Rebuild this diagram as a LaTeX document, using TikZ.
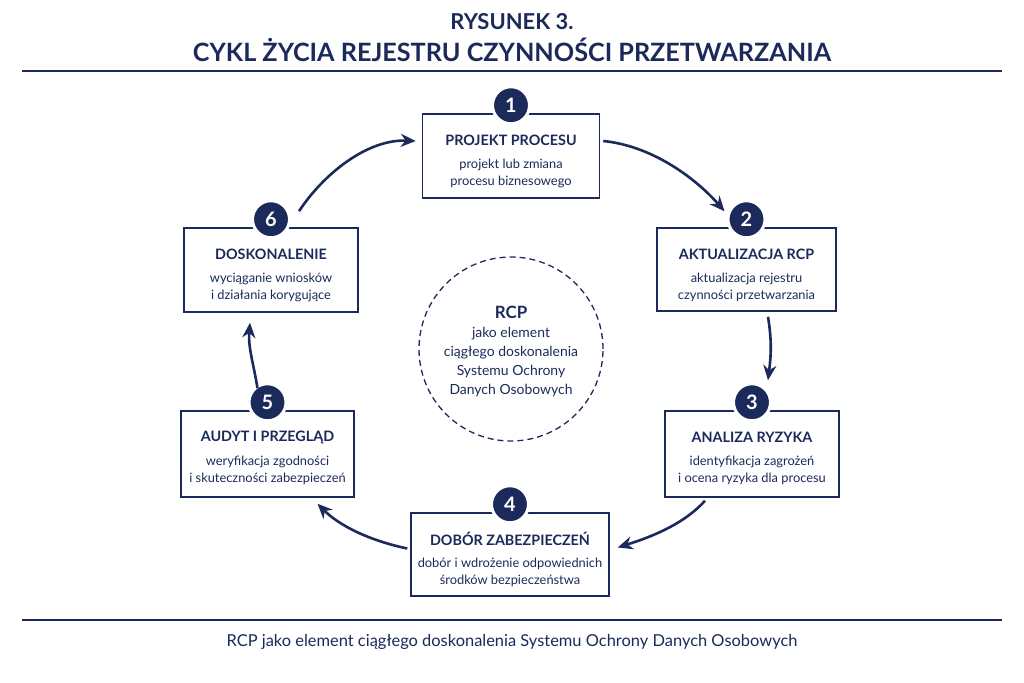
\documentclass[tikz,border=0pt]{standalone}
\usepackage{fontspec}
\setmainfont{Lato}
\usetikzlibrary{arrows.meta}
\definecolor{navy}{HTML}{1B2A5B}
\newcommand{\procbox}[8]{%
  \node[pbox, minimum width=#4bp, minimum height=#5bp] (b#1) at (#2,#3) {};
  \node[ptitle] (t#1) at ([shift={(0,27)}]b#1.north) {#6};
  \node[pbody] (d#1) at ([shift={(0,60)}]b#1.north) {#7};
  \node[pnum] (n#1) at ([shift={(0,-8)}]b#1.north) {#8};
}
\begin{document}
\begin{tikzpicture}[x=1bp,y=-1bp,
  pbox/.style={draw=navy, line width=1.5bp, fill=white, inner sep=0pt},
  ptitle/.style={text=navy, font=\fontsize{14.4}{16}\selectfont\bfseries, inner sep=0pt},
  pbody/.style={text=navy, align=center, font=\fontsize{12.9}{16.5}\selectfont, inner sep=0pt},
  pnum/.style={circle, fill=navy, draw=white, line width=3bp, minimum size=37bp, inner sep=0pt, text=white, font=\fontsize{20}{20}\selectfont\bfseries},
  flow/.style={draw=navy, line width=2.6bp, -{Stealth[length=15bp,width=13bp]}},
  rule/.style={draw=navy, line width=2bp}]
\useasboundingbox (0,0) rectangle (1024,683);
\fill[white] (0,0) rectangle (1024,683);
% title
\node[text=navy, font=\fontsize{22}{22}\selectfont\bfseries] (tt1) at (512,22) {RYSUNEK 3.};
\node[text=navy, font=\fontsize{25.3}{25.3}\selectfont\bfseries] (tt2) at (512,50) {CYKL ŻYCIA REJESTRU CZYNNOŚCI PRZETWARZANIA};
\coordinate (r1a) at (22,71); \coordinate (r1b) at (1002,71);
\draw[rule] (r1a) -- (r1b);
\coordinate (r2a) at (22,620); \coordinate (r2b) at (1002,620);
\draw[rule, line width=1.5bp] (r2a) -- (r2b);
\node[text=navy, font=\fontsize{16.5}{16.5}\selectfont] (cap) at (512,642) {RCP jako element ciągłego doskonalenia Systemu Ochrony Danych Osobowych};
% centre
\node[circle, draw=navy, dashed, dash pattern=on 6bp off 4bp, line width=1.3bp, minimum size=184bp, inner sep=0pt] (core) at (511,349) {};
\node[text=navy, font=\fontsize{17}{17}\selectfont\bfseries] (coret) at (511,312) {RCP};
\node[text=navy, align=center, font=\fontsize{14}{19}\selectfont, inner sep=0pt] (cored) at (511,362) {jako element\\ciągłego doskonalenia\\Systemu Ochrony\\Danych Osobowych};
% boxes
\procbox{1}{511}{156}{177}{84}{PROJEKT PROCESU}{projekt lub zmiana\\procesu biznesowego}{1}
\procbox{2}{746.5}{269.5}{179}{83}{AKTUALIZACJA RCP}{aktualizacja rejestru\\czynności przetwarzania}{2}
\procbox{3}{752}{454}{174}{86}{ANALIZA RYZYKA}{identyfikacja zagrożeń\\i ocena ryzyka dla procesu}{3}
\procbox{4}{510}{554.5}{198}{83}{DOBÓR ZABEZPIECZEŃ}{dobór i wdrożenie odpowiednich\\środków bezpieczeństwa}{4}
\procbox{5}{267.5}{454}{173}{86}{AUDYT I PRZEGLĄD}{weryfikacja zgodności\\i skuteczności zabezpieczeń}{5}
\procbox{6}{271}{270}{174}{84}{DOSKONALENIE}{wyciąganie wniosków\\i działania korygujące}{6}
% connectors
\draw[flow] ([shift={(3,-15)}]b1.east) .. controls +(50,5) and +(-28,-32) .. ([shift={(-22,-8)}]n2.center);
\draw[flow] ([shift={(21.5,5)}]b2.south) .. controls +(4,25) and +(3,-25) .. ([shift={(16,-22)}]n3.center);
\draw[flow] ([shift={(-47,3)}]b3.south) .. controls +(-20,22) and +(38,-12) .. ([shift={(8,-7)}]b4.east);
\draw[flow] ([shift={(-3,-6)}]b4.west) .. controls +(-38,-8) and +(22,22) .. ([shift={(50,6)}]b5.south);
\draw[flow] ([shift={(-10,-14)}]n5.center) .. controls +(-4,-25) and +(-2,25) .. ([shift={(-21,10)}]b6.south);
\draw[flow] ([shift={(28,-8)}]n6.center) .. controls +(25,-38) and +(-48,-2) .. ([shift={(-6,-15)}]b1.west);
\end{tikzpicture}
\end{document}
